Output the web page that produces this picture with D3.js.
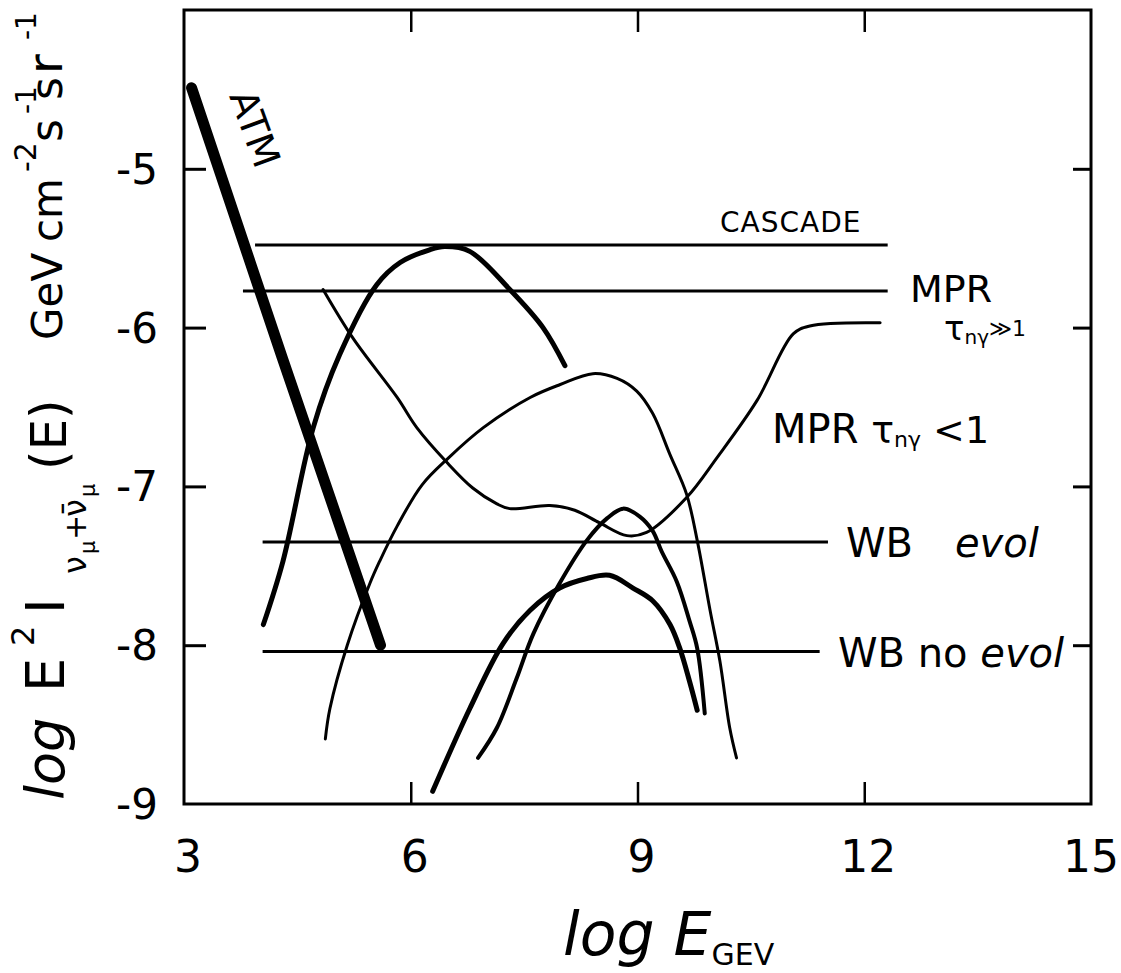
<!DOCTYPE html>
<html>
<head>
<meta charset="utf-8">
<script src="https://cdn.jsdelivr.net/npm/d3@7"></script>
<style>
  html, body { margin: 0; padding: 0; background: #fff; }
  svg { display: block; }
  text { font-family: "DejaVu Sans", sans-serif; fill: #000; }
</style>
</head>
<body>
<svg id="chart" width="1121" height="973"></svg>
<script>
// ---- data (log E [GeV], log flux) ----
const xTicks = [3, 6, 9, 12, 15];
const yTicks = [-9, -8, -7, -6, -5];
const yTickLabels = ["-9", "-8", "-7", "-6", "-5"];

const atm = [[3.1, -4.49], [4.3, -6.19], [5.6, -8.0]];

const cascadeLevel = { x0: 3.94, x1: 12.31, y: -5.48 };
const mprHighLevel = { x0: 3.78, x1: 12.31, y: -5.77 };
const wbEvolLevel = { x0: 4.04, x1: 11.52, y: -7.35 };
const wbNoEvolLevel = { x0: 4.04, x1: 11.41, y: -8.04 };

// thick hump peaking near CASCADE level
const curveA = [[4.05, -7.87], [4.31, -7.47], [4.71, -6.63], [5.06, -6.17], [5.55, -5.73],
  [5.86, -5.59], [6.25, -5.51], [6.45, -5.49], [6.78, -5.52], [7.31, -5.76], [7.75, -6.0], [8.04, -6.24]];

// MPR tau >> 1 (thin)
const curveB = [[4.84, -5.76], [5.24, -6.07], [5.82, -6.44], [6.08, -6.63], [6.48, -6.85],
  [6.82, -7.01], [7.14, -7.11], [7.31, -7.14], [7.84, -7.12], [8.17, -7.15], [8.5, -7.23],
  [8.86, -7.31], [9.12, -7.29], [9.65, -7.07], [10.05, -6.82], [10.58, -6.46], [11.06, -6.04],
  [11.28, -5.99], [12.21, -5.97]];

// MPR tau < 1 (thin)
const curveC = [[4.87, -8.59], [4.93, -8.4], [5.16, -8.0], [5.46, -7.61], [5.59, -7.47],
  [5.82, -7.25], [6.15, -6.99], [6.5, -6.82], [6.96, -6.63], [7.58, -6.44], [7.97, -6.36],
  [8.41, -6.29], [8.73, -6.32], [8.99, -6.4], [9.2, -6.54], [9.43, -6.8], [9.65, -7.05],
  [9.79, -7.34], [9.96, -7.78], [10.09, -8.1], [10.22, -8.52], [10.31, -8.71]];

// medium hump (WB evol region)
const curveD = [[6.89, -8.71], [7.14, -8.52], [7.4, -8.21], [7.62, -7.93], [7.97, -7.61],
  [8.33, -7.34], [8.6, -7.2], [8.81, -7.14], [9.03, -7.19], [9.2, -7.28], [9.32, -7.41],
  [9.52, -7.6], [9.69, -7.85], [9.79, -8.02], [9.89, -8.43]];

// thick lower hump (WB no evol region)
const curveE = [[6.29, -8.92], [6.78, -8.4], [7.22, -7.99], [7.58, -7.78], [7.97, -7.64],
  [8.33, -7.58], [8.63, -7.56], [8.94, -7.64], [9.2, -7.72], [9.43, -7.87], [9.56, -8.02],
  [9.69, -8.23], [9.79, -8.41]];

// ---- layout ----
const svg = d3.select("#chart");
const L = 184, R = 1091, T = 10, B = 804;
const x = d3.scaleLinear().domain([3, 15]).range([L, R]);
const y = d3.scaleLinear().domain([-9, -4]).range([B, T]);

const line = d3.line().x(d => x(d[0])).y(d => y(d[1])).curve(d3.curveCatmullRom.alpha(0.5));

// frame
svg.append("rect").attr("x", L).attr("y", T).attr("width", R - L).attr("height", B - T)
  .attr("fill", "none").attr("stroke", "#000").attr("stroke-width", 3);

// axes ticks (inward) via d3 axes
const tickLen = 22;
svg.append("g").attr("transform", `translate(0,${B})`)
  .call(d3.axisTop(x).tickValues([6, 9, 12]).tickSize(tickLen).tickFormat(""))
  .call(g => g.select(".domain").remove())
  .call(g => g.selectAll("line").attr("stroke", "#000").attr("stroke-width", 2.5));
svg.append("g").attr("transform", `translate(0,${T})`)
  .call(d3.axisBottom(x).tickValues([6, 9, 12]).tickSize(tickLen).tickFormat(""))
  .call(g => g.select(".domain").remove())
  .call(g => g.selectAll("line").attr("stroke", "#000").attr("stroke-width", 2.5));
svg.append("g").attr("transform", `translate(${L},0)`)
  .call(d3.axisRight(y).tickValues([-8, -7, -6, -5]).tickSize(tickLen).tickFormat(""))
  .call(g => g.select(".domain").remove())
  .call(g => g.selectAll("line").attr("stroke", "#000").attr("stroke-width", 3));
svg.append("g").attr("transform", `translate(${R},0)`)
  .call(d3.axisLeft(y).tickValues([-8, -7, -6, -5]).tickSize(18).tickFormat(""))
  .call(g => g.select(".domain").remove())
  .call(g => g.selectAll("line").attr("stroke", "#000").attr("stroke-width", 3));

// tick labels
svg.append("g").selectAll("text").data(xTicks).join("text")
  .attr("x", d => x(d) + (d === 15 ? 0 : 4)).attr("y", 872)
  .attr("text-anchor", "middle").attr("font-size", 44)
  .text(d => d);
svg.append("g").selectAll("text").data(yTicks).join("text")
  .attr("x", 158).attr("y", d => y(d) + 15)
  .attr("text-anchor", "end").attr("font-size", 42)
  .text((d, i) => yTickLabels[i]);

// horizontal levels
[cascadeLevel, mprHighLevel, wbEvolLevel, wbNoEvolLevel].forEach(h => {
  svg.append("path")
    .attr("d", line([[h.x0, h.y], [h.x1, h.y]]))
    .attr("fill", "none").attr("stroke", "#000").attr("stroke-width", 3);
});

// curves
const curves = [
  { d: curveB, w: 3 },
  { d: curveC, w: 3 },
  { d: curveD, w: 4 },
  { d: curveE, w: 5 },
  { d: curveA, w: 5 }
];
curves.forEach(c => {
  svg.append("path").attr("d", line(c.d))
    .attr("fill", "none").attr("stroke", "#000").attr("stroke-width", c.w)
    .attr("stroke-linecap", "round").attr("stroke-linejoin", "round");
});

// ATM thick line
svg.append("path").attr("d", d3.line().x(d => x(d[0])).y(d => y(d[1]))(atm))
  .attr("fill", "none").attr("stroke", "#000").attr("stroke-width", 11)
  .attr("stroke-linecap", "round");

// in-plot labels
svg.append("text").attr("transform", "translate(229,96) rotate(70)")
  .attr("font-size", 38).text("ATM");

svg.append("text").attr("x", 720).attr("y", 232).attr("font-size", 28)
  .attr("letter-spacing", 1).text("CASCADE");

svg.append("text").attr("x", 910).attr("y", 302).attr("font-size", 38).text("MPR");
const t1 = svg.append("text").attr("x", 944).attr("y", 340).attr("font-size", 34);
t1.append("tspan").text("τ");
t1.append("tspan").attr("font-size", 20).attr("dy", 4).text("nγ");
t1.append("tspan").attr("font-size", 22).attr("dy", -8).text("≫1");

const t2 = svg.append("text").attr("x", 772).attr("y", 443).attr("font-size", 40);
t2.append("tspan").text("MPR ");
t2.append("tspan").attr("font-size", 38).text("τ");
t2.append("tspan").attr("font-size", 22).attr("dy", 4).text("nγ");
t2.append("tspan").attr("font-size", 38).attr("dy", -4).text(" <1");

const t3 = svg.append("text").attr("x", 846).attr("y", 557).attr("font-size", 40);
t3.append("tspan").text("WB");
t3.append("tspan").attr("dx", 42).attr("font-style", "italic").text("evol");

const t4 = svg.append("text").attr("x", 838).attr("y", 667).attr("font-size", 40);
t4.append("tspan").text("WB ");
t4.append("tspan").text("no ");
t4.append("tspan").attr("font-style", "italic").text("evol");

// x-axis title
const xt = svg.append("text").attr("x", 563).attr("y", 955).attr("font-size", 60)
  .attr("font-style", "italic");
xt.append("tspan").text("log E");
xt.append("tspan").attr("font-size", 30).attr("font-style", "normal").attr("dy", 10).text("GEV");

// y-axis title (rotated pieces: [text, baseline x, start y, font size, italic])
const yTitlePieces = [
  ["log", 64, 800, 54, true],
  ["E", 64, 692, 54, false],
  ["2", 34, 646, 32, false],
  ["I", 64, 614, 54, false],
  ["ν", 86, 574, 32, false],
  ["μ", 95, 554, 21, false],
  ["+", 86, 540, 30, false],
  ["ν̄", 86, 517, 32, false],
  ["μ", 95, 497, 21, false],
  ["(E)", 66, 470, 50, false],
  ["GeV", 62, 340, 42, false],
  ["cm", 62, 242, 42, false],
  ["-2", 36, 172, 30, false],
  ["s", 62, 142, 44, false],
  ["-1", 36, 114, 28, false],
  ["s", 62, 100, 44, false],
  ["r", 62, 74, 48, false],
  ["-1", 36, 40, 28, false]
];
svg.append("g").selectAll("text").data(yTitlePieces).join("text")
  .attr("transform", d => `translate(${d[1]},${d[2]}) rotate(-90)`)
  .attr("font-size", d => d[3])
  .attr("font-style", d => d[4] ? "italic" : "normal")
  .text(d => d[0]);
</script>
</body>
</html>
